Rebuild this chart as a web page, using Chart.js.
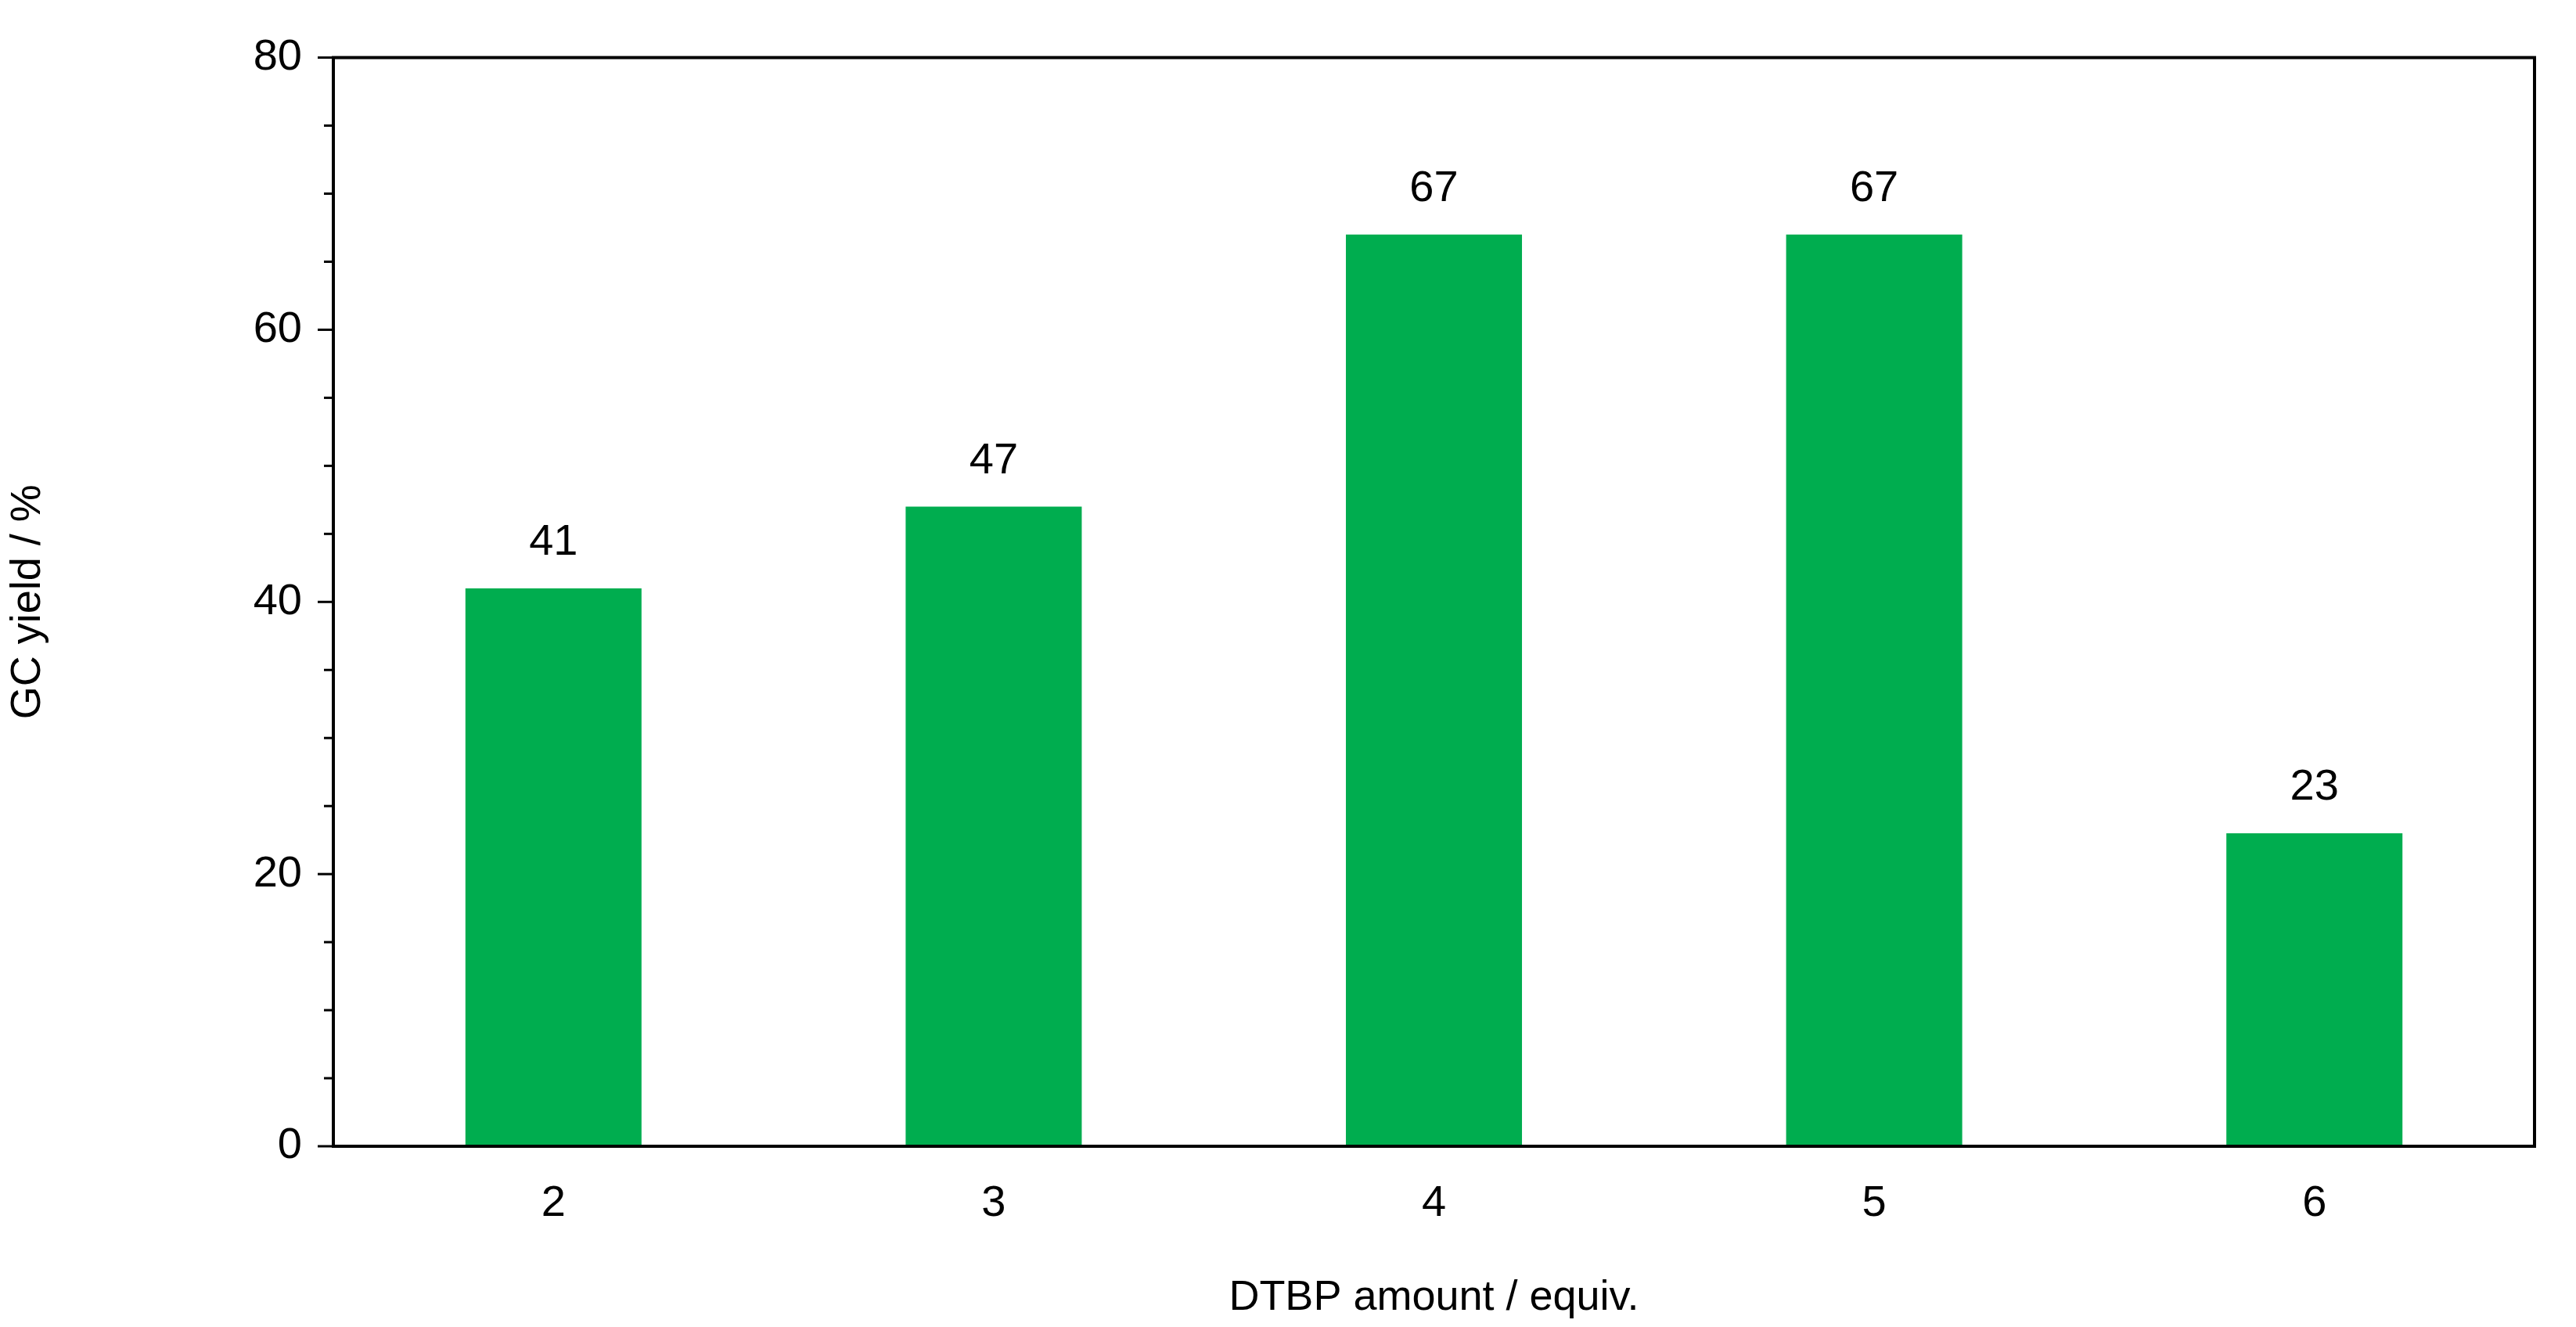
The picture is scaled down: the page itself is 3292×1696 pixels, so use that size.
<!DOCTYPE html>
<html>
<head>
<script src="https://cdn.jsdelivr.net/npm/chart.js@4"></script>
<style>body{margin:0;background:#fff}</style>
</head>
<body>
<canvas id="c" width="3292" height="1696"></canvas>
<script>
const categories = ['2', '3', '4', '5', '6'];
const yieldValues = [41, 47, 67, 67, 23];
const yMajorTicks = [0, 20, 40, 60, 80];

const font = 'Liberation Sans, Arial, sans-serif';

// bar value labels, minor ticks and the frame
const extras = {
    id: 'extras',
    afterDraw(chart) {
        const ctx = chart.ctx;
        const area = chart.chartArea;
        const y = chart.scales.y;
        ctx.save();
        ctx.strokeStyle = '#000';
        ctx.lineWidth = 4;
        ctx.strokeRect(area.left, area.top, area.right - area.left, area.bottom - area.top);
        ctx.lineWidth = 3;
        for (let v = 0; v <= 80; v += 5) {
            const py = y.getPixelForValue(v);
            const len = v % 20 === 0 ? 20 : 12;
            ctx.beginPath();
            ctx.moveTo(area.left - len, py);
            ctx.lineTo(area.left, py);
            ctx.stroke();
        }
        ctx.fillStyle = '#000';
        ctx.font = '56px ' + font;
        ctx.textAlign = 'center';
        ctx.textBaseline = 'bottom';
        chart.getDatasetMeta(0).data.forEach((bar, i) => {
            ctx.fillText(yieldValues[i], bar.x, bar.y - 30);
        });
        ctx.restore();
    }
};

new Chart(document.getElementById('c'), {
    type: 'bar',
    data: {
        labels: categories,
        datasets: [{
            data: yieldValues,
            backgroundColor: '#00ad4f',
            categoryPercentage: 1,
            barPercentage: 0.4
        }]
    },
    options: {
        responsive: false,
        animation: false,
        layout: { padding: { top: 72, right: 53 } },
        plugins: { legend: { display: false }, tooltip: { enabled: false } },
        scales: {
            x: {
                grid: { display: false, drawTicks: false },
                border: { display: false },
                ticks: { color: '#000', font: { size: 56, family: font }, padding: 40 },
                title: { display: true, text: 'DTBP amount / equiv.', color: '#000', font: { size: 54, family: font }, padding: { top: 30 } },
                afterFit(s) { s.height = 231; }
            },
            y: {
                min: 0, max: 80,
                afterBuildTicks(s) { s.ticks = yMajorTicks.map(v => ({ value: v })); },
                grid: { display: false, drawTicks: false },
                border: { display: false },
                ticks: { color: '#000', font: { size: 56, family: font }, padding: 40 },
                title: { display: true, text: 'GC yield / %', color: '#000', font: { size: 54, family: font }, padding: { bottom: 90 } },
                afterFit(s) { s.width = 426; }
            }
        }
    },
    plugins: [extras]
});
</script>
</body>
</html>
